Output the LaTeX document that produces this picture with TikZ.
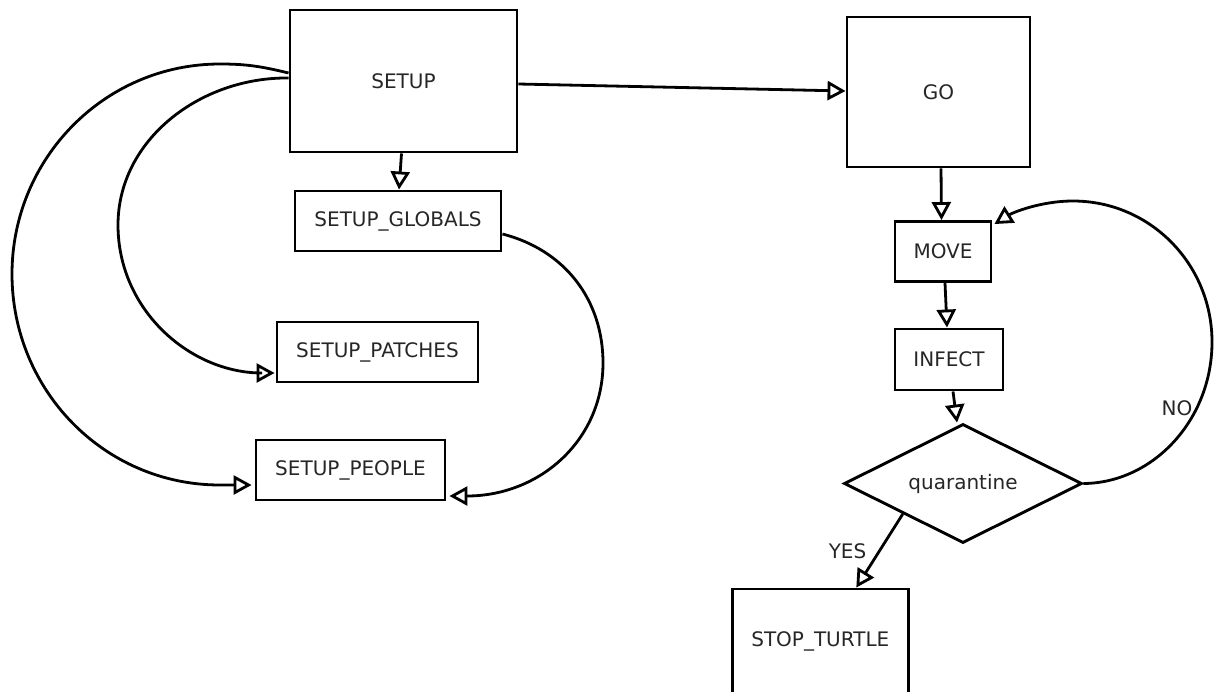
\documentclass[tikz,border=0pt]{standalone}
\usepackage{fontspec}
\setmainfont{DejaVu Sans}
\usetikzlibrary{arrows.meta,shapes.geometric}
\begin{document}
\begin{tikzpicture}[x=1pt,y=-1pt,
  box/.style={draw,line width=2.9pt,inner sep=0pt,font=\fontsize{20}{24}\selectfont,text=black!85},
  dia/.style={draw,diamond,aspect=2,line width=2.9pt,inner sep=0pt,font=\fontsize{20}{24}\selectfont,text=black!85},
  lbl/.style={font=\fontsize{20}{24}\selectfont,text=black!85,inner sep=0pt},
  arr/.style={line width=2.8pt,-{Triangle[open,length=18pt,width=19pt]}}]
\useasboundingbox (0,0) rectangle (1214,691);
\node[box,minimum width=227pt,minimum height=142pt] (SETUP) at (403.5,81) {SETUP};
\node[box,minimum width=183pt,minimum height=150pt] (GO) at (938.5,92) {GO};
\node[box,minimum width=206pt,minimum height=60pt] (GLOB) at (398,221) {SETUP\_GLOBALS};
\node[box,minimum width=201pt,minimum height=60pt] (PATCH) at (377.5,352) {SETUP\_PATCHES};
\node[box,minimum width=189pt,minimum height=60pt] (PEOPLE) at (350.5,470) {SETUP\_PEOPLE};
\node[box,minimum width=96pt,minimum height=60pt] (MOVE) at (943,251.5) {MOVE};
\node[box,minimum width=108pt,minimum height=61pt] (INFECT) at (949,359.5) {INFECT};
\node[dia,minimum width=238pt,minimum height=119pt] (Q) at (963,483.5) {quarantine};
\node[box,minimum width=176pt,minimum height=104pt] (STOP) at (820.3,641) {STOP\_TURTLE};

\draw[arr] ([xshift=-2pt]SETUP.south) -- ([xshift=1pt]GLOB.north);
\draw[arr] ([yshift=-3pt]SETUP.east) -- ([yshift=1pt]GO.west);
\draw[arr] ([xshift=2.5pt]GO.south) -- ([xshift=-1.5pt]MOVE.north);
\draw[arr] ([xshift=2pt]MOVE.south) -- ([xshift=-2pt]INFECT.north);
\draw[arr] ([xshift=4pt]INFECT.south) -- ([xshift=-6pt]Q.north);
\draw[arr] (Q.south west) -- node[lbl,xshift=-32pt]{YES} ([xshift=36pt]STOP.north);
\draw[arr] (Q.east) .. controls (1153,483) and (1212,420) .. (1212,342)
  .. controls (1212,264) and (1150,201) .. (1073,201)
  .. controls (1040,201) and (1012,213) .. ([xshift=2pt,yshift=-4pt]MOVE.north east);
\node[lbl] (NO) at (1177,408) {NO};
\draw[arr] ([yshift=-13pt]GLOB.east) .. controls (565,250) and (603,300) .. (603,363)
  .. controls (603,440) and (540,496) .. ([xshift=3pt,yshift=-26pt]PEOPLE.east);
\draw[arr] ([yshift=8pt]SETUP.west) .. controls (260,66) and (245,64) .. (220,64)
  .. controls (104,64) and (12,159) .. (12,274)
  .. controls (12,390) and (104,485) .. (220,485) -- ([xshift=-3pt,yshift=-15pt]PEOPLE.west);
\draw[arr] ([yshift=3pt]SETUP.west) .. controls (200,77) and (118,140) .. (118,225)
  .. controls (118,310) and (190,373) .. (262,373) -- ([xshift=-1pt,yshift=-21pt]PATCH.west);
\end{tikzpicture}
\end{document}
